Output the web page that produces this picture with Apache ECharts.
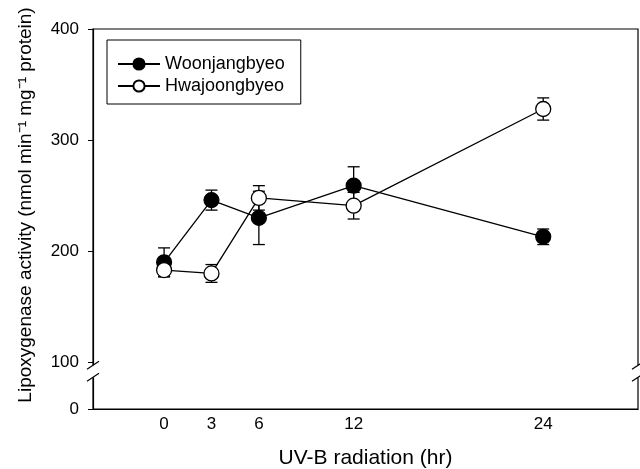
<!DOCTYPE html>
<html>
<head>
<meta charset="utf-8">
<script src="https://cdn.jsdelivr.net/npm/echarts@6/dist/echarts.min.js"></script>
<style>
  html, body { margin: 0; padding: 0; background: #fff; }
  #chart { width: 640px; height: 469px; }
</style>
</head>
<body>
<div id="chart"></div>
<script>
// UV-B 处理时间 (hr)
const hours = [0, 3, 6, 12, 24]
const xTicks = [0, 3, 6, 12, 24]
// y 轴断裂：58 这个位置显示为 0
const yBreakBase = 58
const yTicks = [58, 100, 200, 300, 400]

const woonMean = [190, 246, 230, 259, 213]
const woonErr = [13, 9, 24, 17, 7]
const hwaMean = [183, 180, 248, 241, 328]
const hwaErr = [6, 8, 11, 12, 10]

const font = 'Liberation Sans, Arial, sans-serif'

function pairs(xs, ys) {
  return xs.map((x, i) => [x, ys[i]])
}
function errRows(xs, ys, es) {
  return xs.map((x, i) => [x, ys[i] - es[i], ys[i] + es[i]])
}

// 误差线 + 横帽
function errorRender(params, api) {
  const x = api.value(0)
  const top = api.coord([x, api.value(2)])
  const bot = api.coord([x, api.value(1)])
  const cap = 6
  const style = { stroke: '#000', lineWidth: 1.3 }
  return {
    type: 'group',
    children: [
      { type: 'line', shape: { x1: top[0], y1: top[1], x2: bot[0], y2: bot[1] }, style },
      { type: 'line', shape: { x1: top[0] - cap, y1: top[1], x2: top[0] + cap, y2: top[1] }, style },
      { type: 'line', shape: { x1: bot[0] - cap, y1: bot[1], x2: bot[0] + cap, y2: bot[1] }, style }
    ]
  }
}

const chart = echarts.init(document.getElementById('chart'))
const option = {
  animation: false,
  backgroundColor: '#fff',
  grid: {
    left: 93,
    right: 2,
    top: 29,
    bottom: 60,
    outerBoundsMode: 'none',
    show: true,
    borderColor: '#000',
    borderWidth: 1.2
  },
  legend: {
    left: 107,
    top: 40,
    orient: 'vertical',
    backgroundColor: '#fff',
    borderColor: '#000',
    borderWidth: 1,
    padding: [15, 16, 9, 10],
    itemWidth: 42,
    itemHeight: 14,
    itemGap: 4,
    textStyle: { fontFamily: font, fontSize: 18, color: '#000' },
    data: ['Woonjangbyeo', 'Hwajoongbyeo']
  },
  xAxis: {
    type: 'value',
    min: -4.5,
    max: 30,
    name: 'UV-B radiation (hr)',
    nameLocation: 'middle',
    nameGap: 39,
    nameTextStyle: { fontFamily: font, fontSize: 21, color: '#000' },
    axisLine: { show: true, onZero: false, lineStyle: { color: '#000', width: 1.2 } },
    axisTick: { show: false },
    splitLine: { show: false },
    axisLabel: {
      customValues: xTicks,
      margin: 7,
      fontFamily: font,
      fontSize: 17,
      color: '#000'
    }
  },
  yAxis: {
    type: 'value',
    min: yBreakBase,
    max: 400,
    name: 'Lipoxygenase activity (nmol min⁻¹ mg⁻¹ protein)',
    nameLocation: 'middle',
    nameGap: 58,
    nameTextStyle: { fontFamily: font, fontSize: 19, color: '#000', padding: [0, 0, 0, 28] },
    axisLine: { show: true, onZero: false, lineStyle: { color: '#000', width: 1.2 } },
    axisTick: { show: true, customValues: yTicks, length: 5, lineStyle: { color: '#000' } },
    splitLine: { show: false },
    axisLabel: {
      customValues: yTicks,
      margin: 14,
      fontFamily: font,
      fontSize: 17,
      color: '#000',
      formatter: v => (v === yBreakBase ? '0' : String(v))
    }
  },
  series: [
    {
      type: 'custom',
      name: 'woonErr',
      renderItem: errorRender,
      data: errRows(hours, woonMean, woonErr),
      z: 1,
      silent: true
    },
    {
      type: 'custom',
      name: 'hwaErr',
      renderItem: errorRender,
      data: errRows(hours, hwaMean, hwaErr),
      z: 1,
      silent: true
    },
    {
      name: 'Woonjangbyeo',
      type: 'line',
      data: pairs(hours, woonMean),
      symbol: 'circle',
      symbolSize: 15,
      showAllSymbol: true,
      lineStyle: { color: '#000', width: 1.3 },
      itemStyle: { color: '#000', borderColor: '#000', borderWidth: 1.2 },
      z: 3
    },
    {
      name: 'Hwajoongbyeo',
      type: 'line',
      data: pairs(hours, hwaMean),
      symbol: 'circle',
      symbolSize: 15,
      showAllSymbol: true,
      lineStyle: { color: '#000', width: 1.3 },
      itemStyle: { color: '#fff', borderColor: '#000', borderWidth: 1.3 },
      z: 4
    }
  ]
}
chart.setOption(option)

// 轴断裂标记 //
const y100 = chart.convertToPixel({ yAxisIndex: 0 }, 100)
const xl = chart.convertToPixel({ xAxisIndex: 0 }, -4.5)
const xr = chart.convertToPixel({ xAxisIndex: 0 }, 30)
const breakEls = []
;[xl, xr].forEach(x => {
  breakEls.push({
    type: 'rect',
    shape: { x: x - 3, y: y100 + 3, width: 6, height: 12 },
    style: { fill: '#fff' },
    z: 10
  })
  ;[y100 + 3, y100 + 15].forEach(y => {
    breakEls.push({
      type: 'line',
      shape: { x1: x - 6, y1: y + 4, x2: x + 6, y2: y - 4 },
      style: { stroke: '#000', lineWidth: 1.2 },
      z: 11
    })
  })
})
chart.setOption({ graphic: breakEls })
</script>
</body>
</html>
